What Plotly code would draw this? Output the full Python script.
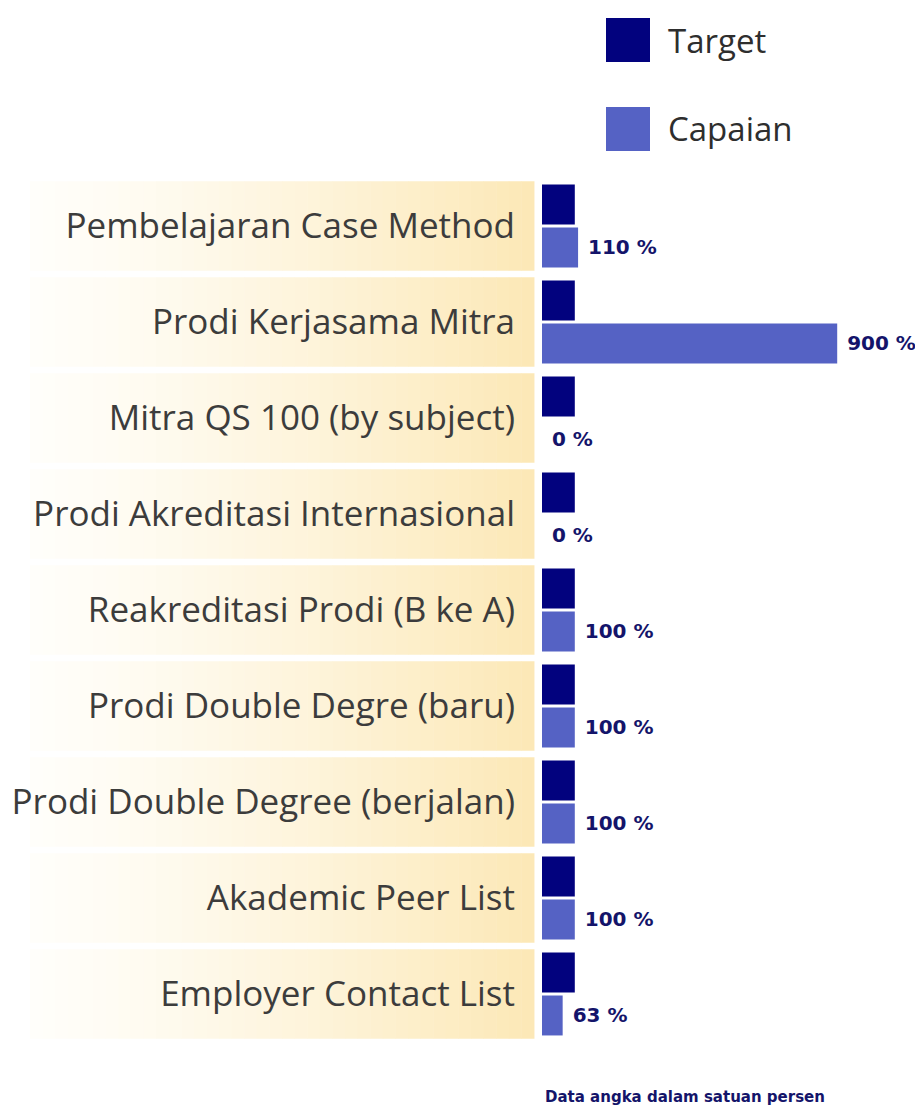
"""
Target vs Capaian bar chart
"""
import plotly.graph_objects as go

categories = [
    'Pembelajaran Case Method',
    'Prodi Kerjasama Mitra',
    'Mitra QS 100 (by subject)',
    'Prodi Akreditasi Internasional',
    'Reakreditasi Prodi (B ke A)',
    'Prodi Double Degre (baru)',
    'Prodi Double Degree (berjalan)',
    'Akademic Peer List',
    'Employer Contact List',
]
target = [100, 100, 100, 100, 100, 100, 100, 100, 100]
capaian = [110, 900, 0, 0, 100, 100, 100, 100, 63]

NAVY = '#02027e'
BLUE = '#5562c4'
# the page body has an 8px margin, so the figure is drawn 8px in from the corner
OFF = 8
W, H = 923 - OFF, 1110 - OFF


def px(x):
    """window x pixel -> paper fraction"""
    return (x - OFF) / W


def py(y):
    """window y pixel (from top) -> paper fraction"""
    return 1 - (y - OFF) / H


fig = go.Figure()
fig.add_trace(go.Bar(y=categories, x=target, orientation='h', name='Target',
                     marker=dict(color=NAVY, line=dict(width=0)),
                     hoverinfo='x'))
fig.add_trace(go.Bar(y=categories, x=capaian, orientation='h', name='Capaian',
                     marker=dict(color=BLUE, line=dict(width=0)),
                     texttemplate=' %{x} %', textposition='outside',
                     textfont=dict(family='DejaVu Sans', size=20, color='#14146a',
                                   weight='bold'),
                     cliponaxis=False, hoverinfo='x'))

# gradient label bands (white -> pale yellow)
steps = 40
x_left, x_right = px(30), px(534)
c0 = (255, 254, 250)
c1 = (252, 232, 182)
shapes = []
for i in range(len(categories)):
    for s in range(steps):
        t = (s + 0.5) / steps
        t = t ** 1.3
        col = tuple(round(a + (b - a) * t) for a, b in zip(c0, c1))
        shapes.append(dict(
            type='rect', xref='paper', yref='y', layer='below',
            x0=x_left + (x_right - x_left) * s / steps,
            x1=x_left + (x_right - x_left) * (s + 1) / steps + 0.0005,
            y0=i - 0.465, y1=i + 0.465,
            fillcolor='rgb(%d,%d,%d)' % col, line=dict(width=0)))

# legend squares
for y_top, col in [(18, NAVY), (107, BLUE)]:
    shapes.append(dict(type='rect', xref='paper', yref='paper',
                       x0=px(606), x1=px(650),
                       y0=py(y_top + 44), y1=py(y_top),
                       fillcolor=col, line=dict(width=0)))

annotations = [
    dict(text='Target', xref='paper', yref='paper', x=px(666), y=py(40),
         xanchor='left', yanchor='middle', showarrow=False,
         font=dict(family='Open Sans', size=33, color='#2e2e2e')),
    dict(text='Capaian', xref='paper', yref='paper', x=px(666), y=py(128),
         xanchor='left', yanchor='middle', showarrow=False,
         font=dict(family='Open Sans', size=33, color='#2e2e2e')),
    dict(text='<b>Data angka dalam satuan persen</b>', xref='paper', yref='paper',
         x=px(543), y=py(1097), xanchor='left', yanchor='middle',
         showarrow=False,
         font=dict(family='DejaVu Sans', size=15, color='#14146a')),
]

fig.update_layout(
    width=W, height=H,
    margin=dict(l=0, r=0, t=0, b=0, autoexpand=False),
    paper_bgcolor='white', plot_bgcolor='rgba(0,0,0,0)',
    barmode='group', bargap=0.105, bargroupgap=0.07,
    showlegend=False,
    shapes=shapes, annotations=annotations,
)
fig.update_xaxes(domain=[px(542), 1], range=[0, (923 - 542) / 0.328],
                 visible=False, showgrid=False, zeroline=False, automargin=False)
fig.update_yaxes(domain=[py(1042), py(178)],
                 categoryorder='array', categoryarray=categories,
                 range=[8.5, -0.5], showgrid=False, zeroline=False,
                 showline=False, ticks='', ticklabelstandoff=26,
                 automargin=False,
                 tickfont=dict(family='Open Sans', size=35, color='#3c3c3c'))

fig.write_html("out.html")
